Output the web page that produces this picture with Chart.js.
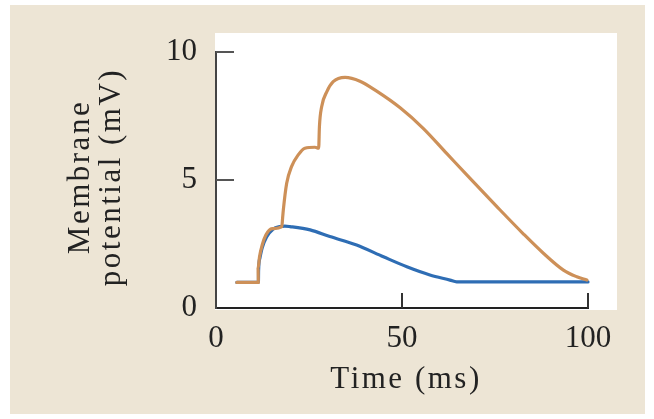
<!DOCTYPE html>
<html>
<head>
<meta charset="utf-8">
<script src="https://cdn.jsdelivr.net/npm/chart.js@4.4.1/dist/chart.umd.min.js"></script>
<style>
  html,body{margin:0;padding:0;background:#fff}
  #wrap{width:654px;height:419px;position:relative}
</style>
</head>
<body>
<div id="wrap"><canvas id="chart"></canvas></div>
<script>
// values (time in ms, potential in mV)
const orangeTime = [5.6,11.4,11.3,11.7,12.4,13.4,15.1,17.7,17.9,18.1,19.0,20.3,22.1,23.9,26.6,27.6,27.8,28.4,29.8,31.5,34.7,38.7,43.2,49.5,55.7,62.0,68.3,75.5,82.6,88.0,93.4,97.0,99.7];
const orangeMv   = [1.0,1.0,1.55,2.0,2.45,2.85,3.1,3.18,3.5,3.83,4.87,5.52,5.98,6.24,6.28,6.24,7.08,7.86,8.45,8.84,9.01,8.86,8.47,7.82,7.02,6.04,5.06,3.96,2.9,2.14,1.48,1.22,1.09];
const blueTime = [5.6,11.4,11.45,11.8,12.4,13.6,15.4,17.2,18.5,19.9,25.3,30.6,37.8,45.0,51.3,57.5,62.9,64.7,80,100];
const blueMv   = [1.0,1.0,1.48,1.95,2.34,2.77,3.09,3.18,3.2,3.18,3.05,2.79,2.46,2.0,1.61,1.29,1.09,1.02,1.02,1.02];
const xTicks = [0,50,100];
const yTicks = [0,5,10];
const xTitle = 'Time (ms)';
const yTitle = ['Membrane','potential (mV)'];

const toPts = (xs,ys)=>xs.map((x,i)=>({x, y:ys[i]}));
const serif = "'Times New Roman', 'Liberation Serif', serif";

const panel = {
  id:'panel',
  beforeDraw(c){
    const {ctx, chartArea:a} = c;
    ctx.save();
    ctx.fillStyle = '#ede5d5';
    ctx.fillRect(10,5,635,409);
    ctx.fillStyle = '#ffffff';
    ctx.fillRect(a.left-1, a.top-19, a.right-a.left+30, a.bottom-a.top+21);
    ctx.restore();
  },
  afterDraw(c){
    const {ctx, chartArea:a, scales:{x, y}} = c;
    ctx.save();
    // inward ticks
    ctx.strokeStyle = '#555'; ctx.lineWidth = 2;
    yTicks.filter(v=>v>0).forEach(v=>{
      const py = y.getPixelForValue(v);
      ctx.beginPath(); ctx.moveTo(a.left, py); ctx.lineTo(a.left+18, py); ctx.stroke();
    });
    ctx.strokeStyle = '#333';
    xTicks.filter(v=>v>0).forEach(v=>{
      const px = x.getPixelForValue(v);
      ctx.beginPath(); ctx.moveTo(px, a.bottom); ctx.lineTo(px, a.bottom-15); ctx.stroke();
    });
    // axis titles
    ctx.fillStyle = '#222';
    ctx.font = '31px ' + serif;
    ctx.letterSpacing = '2.5px';
    ctx.textAlign = 'center'; ctx.textBaseline = 'middle';
    ctx.fillText(xTitle, (a.left+a.right)/2 + 4, 380);
    ctx.translate(81, (a.top+a.bottom)/2 - 3);
    ctx.rotate(-Math.PI/2);
    ctx.fillText(yTitle[0], 0, 0);
    ctx.fillText(yTitle[1], 0, 31);
    ctx.restore();
  }
};

new Chart(document.getElementById('chart'), {
  type:'scatter',
  data:{datasets:[
    {label:'orange', data:toPts(orangeTime, orangeMv), borderColor:'#cd9058', order:0},
    {label:'blue', data:toPts(blueTime, blueMv), borderColor:'#2e6db4', order:1}
  ]},
  options:{
    responsive:true, maintainAspectRatio:false, animation:false,
    layout:{padding:{left:0, top:52, right:66, bottom:0}},
    plugins:{legend:{display:false}, tooltip:{enabled:false}},
    elements:{
      point:{radius:0},
      line:{borderWidth:3.2, cubicInterpolationMode:'monotone', borderCapStyle:'round', borderJoinStyle:'round'}
    },
    datasets:{scatter:{showLine:true, clip:false}},
    scales:{
      x:{
        min:0, max:100,
        afterFit(s){ s.height = 111; },
        afterBuildTicks(s){ s.ticks = xTicks.map(v=>({value:v})); },
        grid:{drawOnChartArea:false, drawTicks:false},
        border:{display:true, color:'#222', width:2},
        ticks:{padding:12, color:'#222', font:{family:serif, size:31}, maxRotation:0}
      },
      y:{
        min:0, max:10,
        afterFit(s){ s.width = 216; },
        afterBuildTicks(s){ s.ticks = yTicks.map(v=>({value:v})); },
        grid:{drawOnChartArea:false, drawTicks:false},
        border:{display:true, color:'#444', width:2},
        ticks:{padding:19, color:'#222', font:{family:serif, size:31}}
      }
    }
  },
  plugins:[panel]
});
</script>
</body>
</html>
